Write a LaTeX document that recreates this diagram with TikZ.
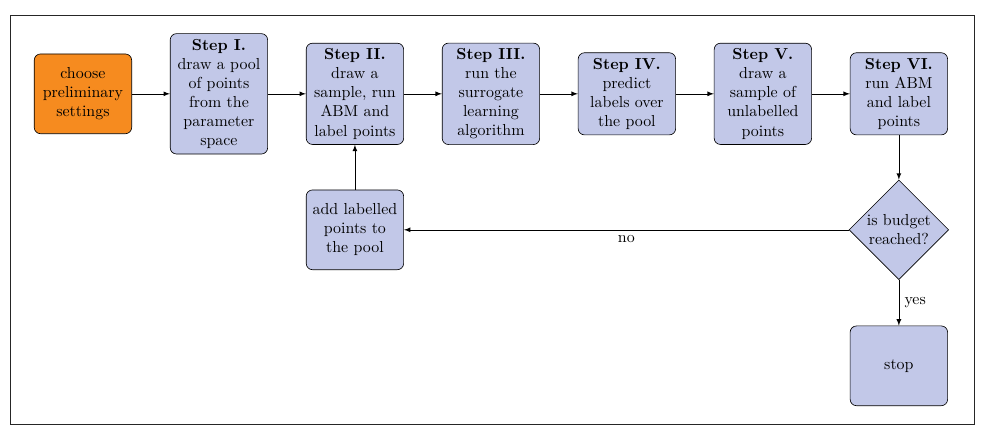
\documentclass[tikz,border=0pt]{standalone}
\usepackage{amsmath,amssymb}
\usepackage{tikz}
\usetikzlibrary{positioning}
\usetikzlibrary{arrows}
\usetikzlibrary{shapes}
\definecolor{stepblue}{RGB}{194,200,232}
\definecolor{startorange}{RGB}{246,139,31}

\begin{document}
\begin{tikzpicture}
			\tikzstyle{start}=[rectangle, rounded corners, draw=black, fill=startorange, minimum width=2.15cm, minimum height=1.76cm, align=center]
			\tikzstyle{stepbox}=[rectangle, rounded corners, draw=black, fill=stepblue, minimum width=2.15cm, minimum height=1.76cm, align=center]
			\tikzstyle{decide}=[diamond, aspect=1, draw=black, fill=stepblue, inner sep=0pt, minimum width=2.2cm, minimum height=2.2cm, align=center]
			
			\useasboundingbox (0,0) rectangle (21.73,-9.574);
			\draw [black!85] (0.22,-0.33) rectangle (21.49,-9.35);
			
			\draw node at (1.83, -2.07) [start] (pre) {choose\\ preliminary\\ settings};
			\draw node at (4.83, -2.07) [stepbox] (s1) {\textbf{Step I.}\\ draw a pool\\ of points\\ from the\\ parameter\\ space};
			\draw node at (7.83, -2.07) [stepbox] (s2) {\textbf{Step II.}\\ draw a\\ sample, run\\ ABM and\\ label points};
			\draw node at (10.83, -2.07) [stepbox] (s3) {\textbf{Step III.}\\ run the\\ surrogate\\ learning\\ algorithm};
			\draw node at (13.83, -2.07) [stepbox] (s4) {\textbf{Step IV.}\\ predict\\ labels over\\ the pool};
			\draw node at (16.83, -2.07) [stepbox] (s5) {\textbf{Step V.}\\ draw a\\ sample of\\ unlabelled\\ points};
			\draw node at (19.83, -2.07) [stepbox] (s6) {\textbf{Step VI.}\\ run ABM\\ and label\\ points};
			
			\draw [-latex]  (pre) to (s1);
			\draw [-latex]  (s1) to (s2);
			\draw [-latex]  (s2) to (s3);
			\draw [-latex]  (s3) to (s4);
			\draw [-latex]  (s4) to (s5);
			\draw [-latex]  (s5) to (s6);
			
			\draw node at (19.83, -5.07) [decide] (budget) {is budget\\ reached?};
			\draw node at (7.83, -5.07) [stepbox] (add) {add labelled\\ points to\\ the pool};
			\draw node at (19.83, -8.07) [stepbox] (stop) {stop};
			
			\draw [-latex]  (s6) to (budget);
			\draw [-latex]  (budget) to node[below]{no} (add);
			\draw [-latex]  (add) to (s2);
			\draw [-latex]  (budget) to node[right]{yes} (stop);
		\end{tikzpicture}
\end{document}
